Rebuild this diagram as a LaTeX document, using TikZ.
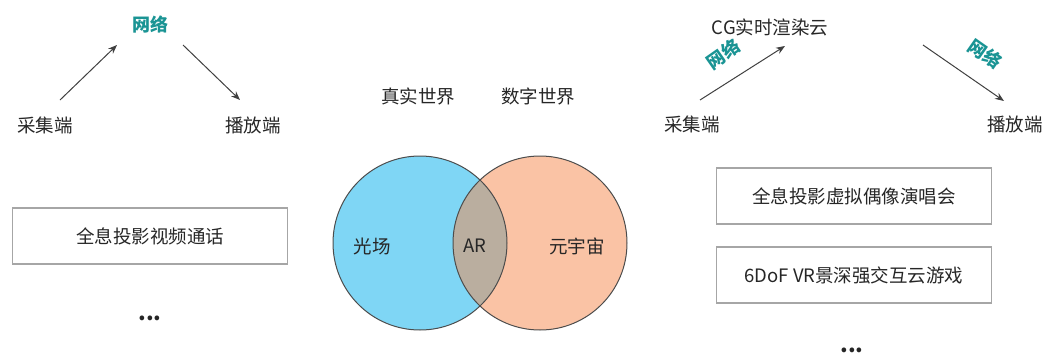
\documentclass[tikz,border=0pt]{standalone}
\usepackage{fontspec}
\setmainfont{Noto Sans CJK SC}
\usetikzlibrary{arrows.meta}
\definecolor{netteal}{HTML}{1A9494}
\definecolor{lightblue}{HTML}{7FD6F5}
\definecolor{orangefill}{HTML}{F5874B}
\definecolor{boxgray}{HTML}{A6A6A6}
\definecolor{arrowgray}{HTML}{404040}
\tikzset{
  lbl/.style={font=\fontsize{18.5}{21}\selectfont, text=black!85, inner sep=0pt},
  net/.style={font=\fontsize{18}{21}\selectfont\bfseries, text=netteal, inner sep=0pt},
  appbox/.style={draw=boxgray, line width=1.3pt, minimum width=275pt, minimum height=56pt, font=\fontsize{18.5}{21}\selectfont, text=black!85, inner sep=0pt},
  dots/.style={font=\fontsize{22}{24}\selectfont\bfseries, text=black!85, inner sep=0pt},
  flow/.style={draw=arrowgray, line width=1pt, -{Stealth[length=9pt,width=7pt]}},
  venn/.style={draw=black!70, line width=1pt}
}
\begin{document}
\begin{tikzpicture}[x=1pt,y=-1pt]
\useasboundingbox (0,0) rectangle (1045,359);
% left group
\node[net] (netL) at (150,25) {网络};
\node[lbl] (capL) at (45,125) {采集端};
\node[lbl] (playL) at (253,125) {播放端};
\coordinate (a1s) at (60,100);
\coordinate (a1e) at (117,45);
\coordinate (a2s) at (183,45);
\coordinate (a2e) at (240,100);
\draw[flow] (a1s) -- (a1e);
\draw[flow] (a2s) -- (a2e);
\node[appbox] (boxL) at (150,236) {全息投影视频通话};
\node[dots] (dotsL) at (150,318) {...};
% middle
\node[lbl] (real) at (418,96) {真实世界};
\node[lbl] (digi) at (538,96) {数字世界};
\fill[lightblue] (420,243) circle[radius=87];
\fill[orangefill, fill opacity=0.5] (540,243) circle[radius=87];
\draw[venn] (420,243) circle[radius=87];
\draw[venn] (540,243) circle[radius=87];
\node[lbl] (lf) at (372,246) {光场};
\node[lbl] (ar) at (475,246) {AR};
\node[lbl] (meta) at (577,246) {元宇宙};
% right group
\node[lbl] (cg) at (770,27) {CG实时渲染云};
\node[lbl] (capR) at (692,124) {采集端};
\node[lbl] (playR) at (1015,124) {播放端};
\coordinate (b1s) at (700,100);
\coordinate (b1e) at (785,46);
\coordinate (b2s) at (923,45);
\coordinate (b2e) at (1004,101);
\draw[flow] (b1s) -- (b1e);
\draw[flow] (b2s) -- (b2e);
\node[net, rotate=35] (netR1) at (723,54) {网络};
\node[net, rotate=-35] (netR2) at (985,54) {网络};
\node[appbox] (boxR1) at (854,196) {全息投影虚拟偶像演唱会};
\node[appbox] (boxR2) at (854,275) {6DoF VR景深强交互云游戏};
\node[dots] (dotsR) at (852,350) {...};
\end{tikzpicture}
\end{document}
